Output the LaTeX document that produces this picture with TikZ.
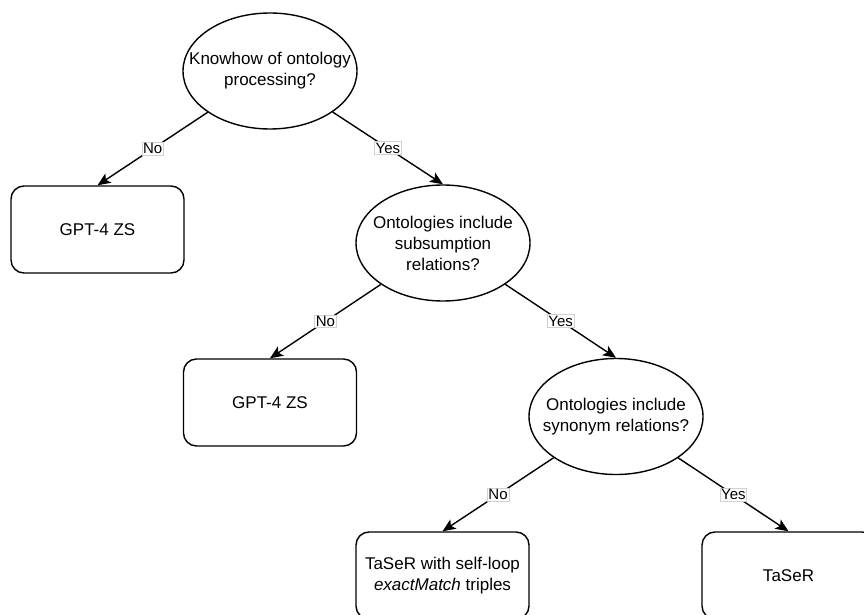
\documentclass[tikz,border=0pt]{standalone}
\usepackage{fontspec}
\setmainfont{Liberation Sans}
\usetikzlibrary{shapes.geometric,arrows.meta}
\begin{document}
\begin{tikzpicture}[x=1pt,y=-1pt,
  txt/.style={align=center,font=\fontsize{17}{21}\selectfont},
  dec/.style={ellipse,draw,line width=1.4pt,minimum width=174pt,minimum height=116pt,inner sep=0pt},
  res/.style={rectangle,draw,rounded corners=13pt,line width=1.4pt,minimum width=173pt,minimum height=87pt,inner sep=0pt,txt},
  arr/.style={line width=1.4pt,-{Stealth[length=13pt,width=11pt,inset=3pt]}},
  lab/.style={fill=white,draw=black!18,line width=0.6pt,inner sep=1.2pt,font=\fontsize{15}{17}\selectfont}]
\useasboundingbox (0,0) rectangle (864,615);
\fill[white] (0,0) rectangle (864,615);
\clip (0,0) rectangle (864,615);
\node[dec,label={[txt]center:Knowhow of ontology\\processing?}] (e1) at (270,71) {};
\node[res] (b1) at (97.5,229.5) {GPT-4 ZS};
\node[dec,label={[txt]center:Ontologies include\\subsumption\\relations?}] (e2) at (443,243) {};
\node[res] (b2) at (270,402.5) {GPT-4 ZS};
\node[dec,label={[txt]center:Ontologies include\\synonym relations?}] (e3) at (616,416.5) {};
\node[res] (b3) at (442.5,575.5) {TaSeR with self-loop\\\textit{exactMatch} triples};
\node[res] (b4) at (788.5,575.5) {TaSeR};
\draw[arr] (e1) -- node[lab] (l1) {No} (b1.north);
\draw[arr] (e1) -- node[lab] (l2) {Yes} (e2.north);
\draw[arr] (e2) -- node[lab] (l3) {No} (b2.north);
\draw[arr] (e2) -- node[lab] (l4) {Yes} (e3.north);
\draw[arr] (e3) -- node[lab] (l5) {No} (b3.north);
\draw[arr] (e3) -- node[lab] (l6) {Yes} (b4.north);
\end{tikzpicture}
\end{document}
